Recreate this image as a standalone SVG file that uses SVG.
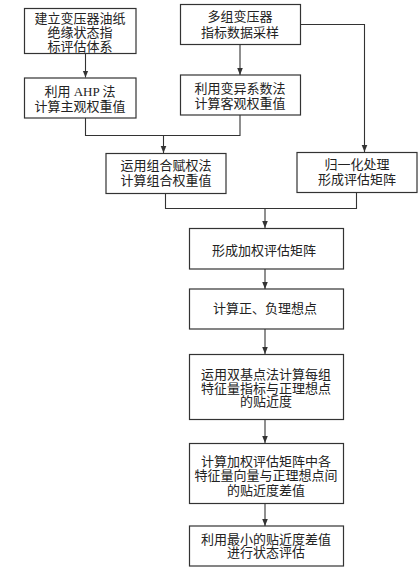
<svg xmlns="http://www.w3.org/2000/svg" width="419" height="574" viewBox="0 0 419 574">
<style>
.box{fill:#fff;stroke:#333;stroke-width:1.2}
.t{font-family:"Liberation Serif","Noto Sans CJK SC",serif;font-size:13px;fill:#222;text-anchor:middle}
.c{fill:none;stroke:#333;stroke-width:1.1}
</style>
<defs>
<marker id="ah" viewBox="0 0 8 8" refX="8" refY="4" markerWidth="7" markerHeight="7" markerUnits="userSpaceOnUse" orient="auto">
<path d="M0,0.8 L8,4 L0,7.2 Z" fill="#333"/>
</marker>
</defs>
<rect width="419" height="574" fill="#fff"/>
<g id="connectors">
<path class="c" d="M85.5,53 V77.5" marker-end="url(#ah)"/>
<path class="c" d="M240,44 V75" marker-end="url(#ah)"/>
<path class="c" d="M300,24.5 H364.5 V152" marker-end="url(#ah)"/>
<path class="c" d="M85.5,118 V135.5 H240 V115"/>
<path class="c" d="M163.5,135.5 V153" marker-end="url(#ah)"/>
<path class="c" d="M165.5,193 V208.5 H356.5 V192"/>
<path class="c" d="M265,208.5 V228" marker-end="url(#ah)"/>
<path class="c" d="M265,269 V289" marker-end="url(#ah)"/>
<path class="c" d="M265,329 V354" marker-end="url(#ah)"/>
<path class="c" d="M265,419 V443" marker-end="url(#ah)"/>
<path class="c" d="M265,503 V526" marker-end="url(#ah)"/>
</g>
<g id="nodeA"><rect class="box" x="24.5" y="8.5" width="111.5" height="45"/>
<text class="t" x="80" y="23">建立变压器油纸</text><text class="t" x="80" y="37">绝缘状态指</text><text class="t" x="80" y="51">标评估体系</text></g>
<g id="nodeB"><rect class="box" x="180.5" y="4.5" width="120" height="40"/>
<text class="t" x="240" y="21">多组变压器</text><text class="t" x="240" y="36.5">指标数据采样</text></g>
<g id="nodeC"><rect class="box" x="24.5" y="78" width="111.5" height="40"/>
<text class="t" x="80" y="95.5">利用 AHP 法</text><text class="t" x="80" y="111">计算主观权重值</text></g>
<g id="nodeD"><rect class="box" x="180.5" y="75" width="120" height="40"/>
<text class="t" x="240" y="93">利用变异系数法</text><text class="t" x="240" y="108">计算客观权重值</text></g>
<g id="nodeE"><rect class="box" x="106" y="153.5" width="120" height="40"/>
<text class="t" x="166" y="170">运用组合赋权法</text><text class="t" x="166" y="185">计算组合权重值</text></g>
<g id="nodeF"><rect class="box" x="297" y="152.5" width="120" height="40"/>
<text class="t" x="357" y="168.5">归一化处理</text><text class="t" x="357" y="183.5">形成评估矩阵</text></g>
<g id="nodeG"><rect class="box" x="189.5" y="228.5" width="154" height="40.5"/>
<text class="t" x="264" y="255">形成加权评估矩阵</text></g>
<g id="nodeH"><rect class="box" x="189.5" y="289" width="154" height="40"/>
<text class="t" x="265" y="313">计算正、负理想点</text></g>
<g id="nodeI"><rect class="box" x="189.5" y="354.5" width="154" height="65"/>
<text class="t" x="266" y="378.5">运用双基点法计算每组</text><text class="t" x="266" y="392.5">特征量指标与正理想点</text><text class="t" x="266" y="406">的贴近度</text></g>
<g id="nodeJ"><rect class="box" x="189.5" y="443.5" width="154" height="60"/>
<text class="t" x="266" y="466">计算加权评估矩阵中各</text><text class="t" x="266" y="480">特征量向量与正理想点间</text><text class="t" x="266" y="494.5">的贴近度差值</text></g>
<g id="nodeK"><rect class="box" x="189.5" y="526" width="154" height="40"/>
<text class="t" x="266" y="543.5">利用最小的贴近度差值</text><text class="t" x="266" y="557">进行状态评估</text></g>
</svg>
